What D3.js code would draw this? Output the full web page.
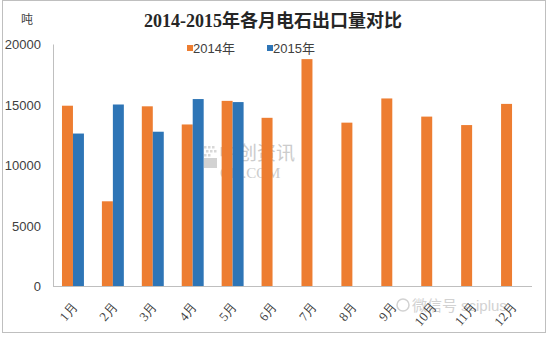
<!DOCTYPE html>
<html><head><meta charset="utf-8">
<script src="https://cdn.jsdelivr.net/npm/d3@7"></script>
<style>
body{margin:0;background:#fff;}
svg{display:block;}
</style></head>
<body><svg id="c" width="551" height="339"></svg>
<script>
const months = ["1月","2月","3月","4月","5月","6月","7月","8月","9月","10月","11月","12月"];
const series2014 = [14900, 7000, 14850, 13350, 15300, 13900, 18750, 13500, 15500, 14000, 13300, 15050];
const series2015 = [12600, 15000, 12750, 15450, 15200, null, null, null, null, null, null, null];
const seriesNames = ["2014年","2015年"];
const colors = ["#ED7D31","#2E75B6"];
const yTicks = [0, 5000, 10000, 15000, 20000];

const svg = d3.select("#c");
const W = 551, H = 339;
const m = {left:53, right:19, top:44, bottom:53};
const x = d3.scaleBand().domain(months).range([m.left, W - m.right]).paddingInner(0.45).paddingOuter(0.225);
const xs = d3.scaleBand().domain([0,1]).range([0, x.bandwidth()]);
const y = d3.scaleLinear().domain([0, 20000]).range([H - m.bottom, m.top]);

// outer border
svg.append("rect").attr("x",2.5).attr("y",0.5).attr("width",543).attr("height",332)
  .attr("fill","none").attr("stroke","#bfbfbf").attr("stroke-width",1);

// watermark (center)
const wm = svg.append("g");
[[0,0],[4,0],[8,0],[2,4],[6,4],[10,4],[0,8],[4,8]].forEach(([dx,dy])=>{
  wm.append("rect").attr("x",204+dx).attr("y",146+dy).attr("width",2.5).attr("height",2.5).attr("fill","#d8d8d8");
});
wm.append("rect").attr("x",204).attr("y",158).attr("width",13).attr("height",10).attr("fill","#d2d2d2");
wm.append("text").attr("x",219).attr("y",160).attr("font-family","Noto Sans CJK SC").attr("font-size",19)
  .attr("fill","#cccccc").text("中创资讯");
wm.append("text").attr("x",220).attr("y",178).attr("font-family","Liberation Serif").attr("font-size",15)
  .attr("fill","#cccccc").text("CI9.COM");

// bottom watermark
svg.append("circle").attr("cx",403).attr("cy",305).attr("r",6).attr("fill","none").attr("stroke","#d2d2d2").attr("stroke-width",1.5);
const bw = svg.append("text").attr("x",412).attr("y",311).attr("fill","#d2d2d2");
bw.append("tspan").attr("font-family","Noto Sans CJK SC").attr("font-size",15).text("微信号");
bw.append("tspan").attr("dx",4).attr("font-family","Liberation Sans").attr("font-size",15).text("sciplus");

// bars
const data = [series2014, series2015];
data.forEach((arr, si) => {
  svg.append("g").selectAll("rect").data(months.map((mo,i)=>({mo, v:arr[i]})).filter(d=>d.v!=null))
    .join("rect")
    .attr("x", d => x(d.mo) + xs(si))
    .attr("y", d => y(d.v))
    .attr("width", xs.bandwidth())
    .attr("height", d => y(0) - y(d.v))
    .attr("fill", colors[si]);
});

// axes
const yAxis = svg.append("g").attr("transform",`translate(${m.left},0)`)
  .call(d3.axisLeft(y).tickValues(yTicks).tickSize(0).tickPadding(12).tickFormat(d3.format("d")));
yAxis.select(".domain").attr("stroke","#bfbfbf");
yAxis.selectAll("text").attr("font-family","Liberation Sans, Arial").attr("font-size",13).attr("fill","#404040").attr("dy","0.35em");

const xAxis = svg.append("g").attr("transform",`translate(0,${y(0)})`)
  .call(d3.axisBottom(x).tickSize(0).tickPadding(0));
xAxis.select(".domain").attr("stroke","#bfbfbf").attr("d",`M${m.left},0.5H${W-m.right}`);
xAxis.selectAll("text")
  .attr("font-family","Liberation Serif, Times New Roman").attr("font-size",13).attr("fill","#404040")
  .attr("text-anchor","end").attr("dy",null).attr("y",null)
  .attr("transform", "translate(5,21) rotate(-50)");

// title
svg.append("text").attr("x",273).attr("y",27).attr("text-anchor","middle")
  .attr("font-family","Liberation Serif, Noto Sans CJK SC").attr("font-weight","bold").attr("font-size",18)
  .attr("fill","#262626").text("2014-2015年各月电石出口量对比");

// unit
svg.append("text").attr("x",21).attr("y",24).attr("font-family","Noto Sans CJK SC").attr("font-size",12)
  .attr("fill","#404040").text("吨");

// legend
const lg = svg.append("g");
[[187,0],[267,1]].forEach(([lx,i])=>{
  lg.append("rect").attr("x",lx).attr("y",45).attr("width",6).attr("height",6).attr("fill",colors[i]);
  lg.append("text").attr("x",lx+6).attr("y",53).attr("font-family","Liberation Sans, Noto Sans CJK SC").attr("font-size",13)
    .attr("fill","#404040").text(seriesNames[i]);
});
</script></body></html>
